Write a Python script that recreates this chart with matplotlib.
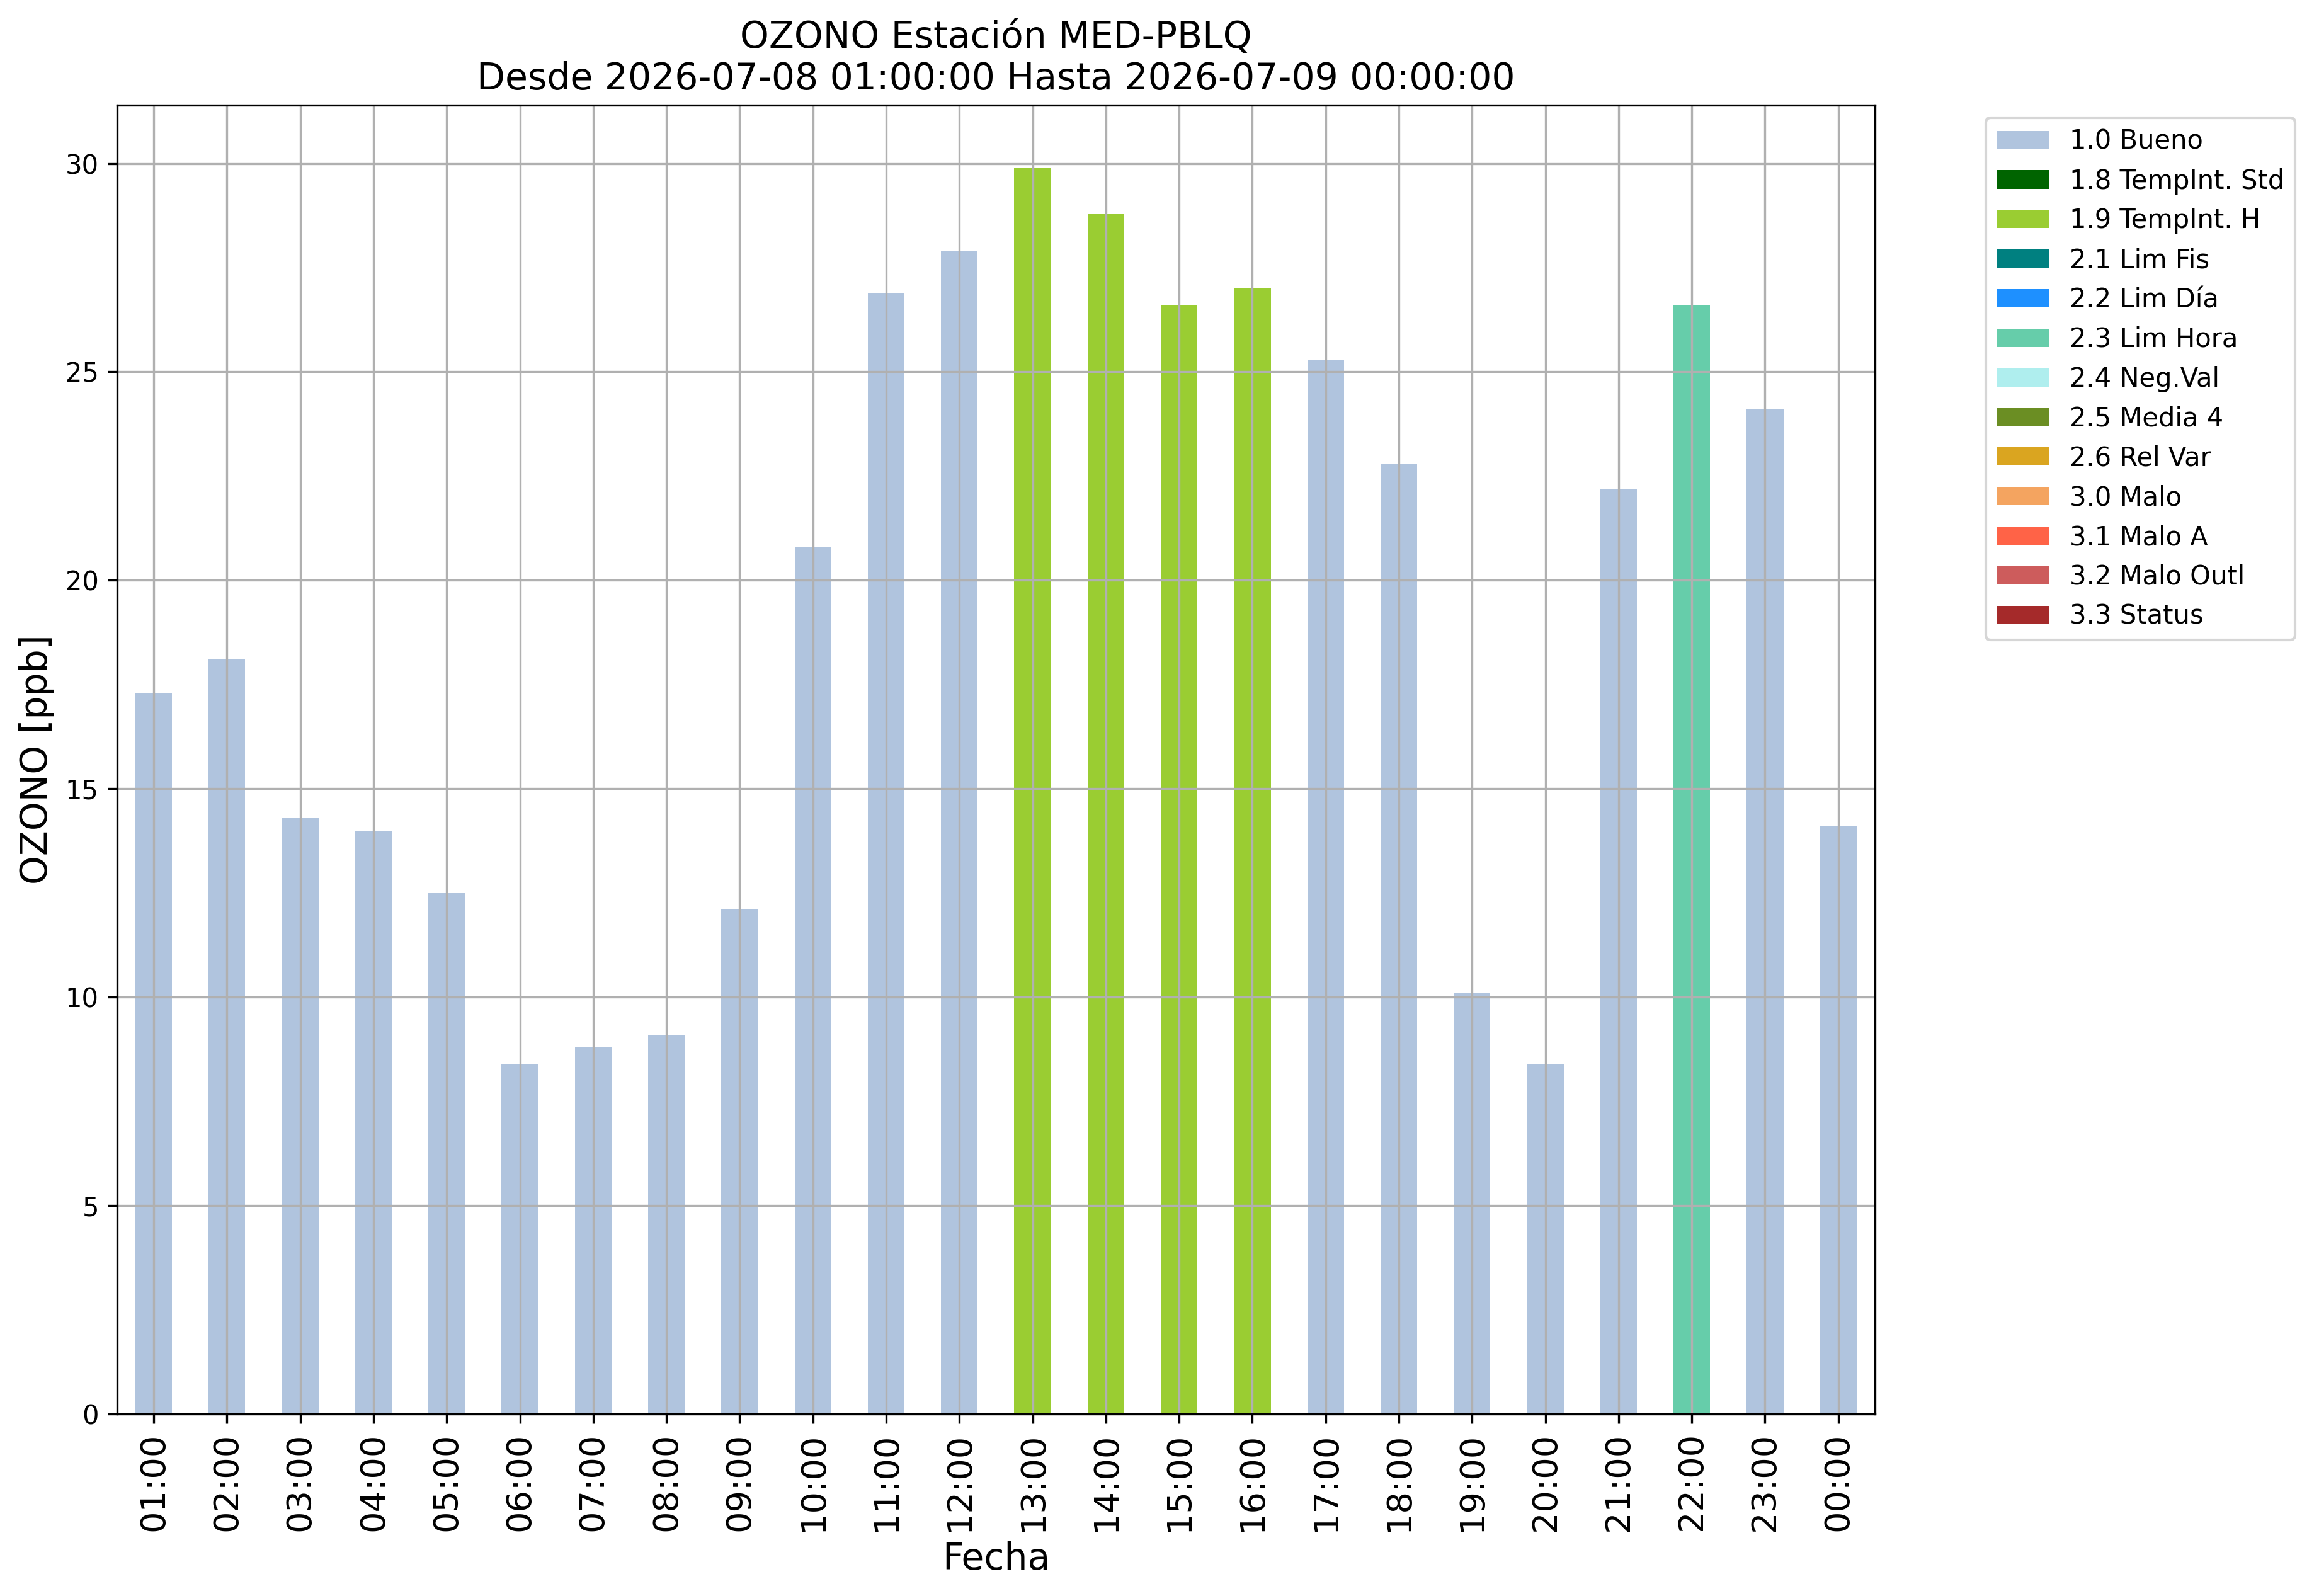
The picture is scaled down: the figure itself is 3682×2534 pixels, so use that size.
import numpy as np
import matplotlib
matplotlib.use('Agg')
import matplotlib.pyplot as plt

# hours and ozone values (ppb)
horas = ['01:00', '02:00', '03:00', '04:00', '05:00', '06:00', '07:00', '08:00',
         '09:00', '10:00', '11:00', '12:00', '13:00', '14:00', '15:00', '16:00',
         '17:00', '18:00', '19:00', '20:00', '21:00', '22:00', '23:00', '00:00']
ozono = [17.3, 18.1, 14.3, 14.0, 12.5, 8.4, 8.8, 9.1, 12.1, 20.8, 26.9, 27.9,
         29.9, 28.8, 26.6, 27.0, 25.3, 22.8, 10.1, 8.4, 22.2, 26.6, 24.1, 14.1]
# quality flag of each hour
bandera = ['1.0 Bueno'] * 12 + ['1.9 TempInt. H'] * 4 + ['1.0 Bueno'] * 5 + \
          ['2.3 Lim Hora'] + ['1.0 Bueno'] * 2

categorias = ['1.0 Bueno', '1.8 TempInt. Std', '1.9 TempInt. H', '2.1 Lim Fis',
              '2.2 Lim Día', '2.3 Lim Hora', '2.4 Neg.Val', '2.5 Media 4',
              '2.6 Rel Var', '3.0 Malo', '3.1 Malo A', '3.2 Malo Outl', '3.3 Status']
colores = ['lightsteelblue', 'darkgreen', 'yellowgreen', 'teal', 'dodgerblue',
           'mediumaquamarine', 'paleturquoise', 'olivedrab', 'goldenrod',
           'sandybrown', 'tomato', 'indianred', 'brown']

fig = plt.figure(figsize=(3682 / 300, 2534 / 300), dpi=300)
ax = fig.add_axes([0.0505, 0.114, 0.758, 0.820])

x = np.arange(len(horas))
vals = np.array(ozono)
flags = np.array(bandera)
for cat, col in zip(categorias, colores):
    h = np.where(flags == cat, vals, np.nan)
    ax.bar(x, h, width=0.5, color=col, label=cat)

ax.set_xlim(-0.5, len(horas) - 0.5)
ax.set_xticks(x)
ax.set_xticklabels(horas, rotation=90, fontsize=13)
ax.tick_params(axis='y', labelsize=10)
ax.grid(True)

ax.set_xlabel('Fecha', fontsize=14)
ax.set_ylabel('OZONO [ppb]', fontsize=14)
ax.set_title('OZONO Estación MED-PBLQ\nDesde 2026-07-08 01:00:00 Hasta 2026-07-09 00:00:00',
             fontsize=14)

ax.legend(loc='upper left', bbox_to_anchor=(0.8563, 0.9262),
          bbox_transform=fig.transFigure, borderaxespad=0, fontsize=10)

fig.savefig('out.png', dpi=300)
